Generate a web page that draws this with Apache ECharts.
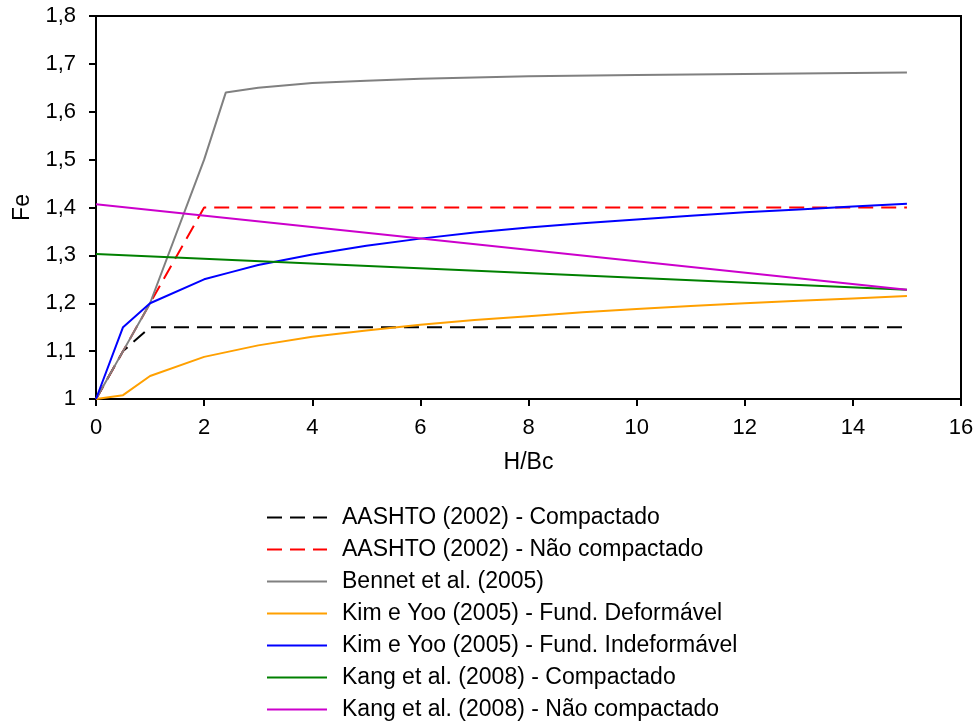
<!DOCTYPE html>
<html><head><meta charset="utf-8">
<script src="https://cdn.jsdelivr.net/npm/echarts@6/dist/echarts.min.js"></script>
<style>html,body{margin:0;padding:0;background:#fff}#c{width:979px;height:726px}</style>
</head><body><div id="c"></div>
<script>
const xTicks = [0, 2, 4, 6, 8, 10, 12, 14, 16];
const seriesNames = [
  'AASHTO (2002) - Compactado',
  'AASHTO (2002) - Não compactado',
  'Bennet et al. (2005)',
  'Kim e Yoo (2005) - Fund. Deformável',
  'Kim e Yoo (2005) - Fund. Indeformável',
  'Kang et al. (2008) - Compactado',
  'Kang et al. (2008) - Não compactado'
];
const aashtoComp = [[0,1],[0.5,1.1],[1,1.15],[15,1.15]];
const aashtoNaoComp = [[0,1],[0.5,1.1],[1,1.2],[2,1.4],[15,1.4]];
const bennet = [[0,1],[0.5,1.1],[1,1.2],[2,1.5],[2.4,1.64],[3,1.65],[4,1.66],[5,1.665],[6,1.669],[8,1.674],[10,1.677],[12,1.679],[15,1.682]];
const kimDef = [[0,1],[0.5,1.008],[1,1.048],[2,1.088],[2.5,1.1],[3,1.112],[4,1.13],[5,1.143],[6,1.155],[7,1.165],[8,1.173],[9,1.181],[10,1.188],[11,1.194],[12,1.2],[13,1.205],[14,1.21],[15,1.215]];
const kimIndef = [[0,1],[0.5,1.15],[1,1.2],[2,1.25],[2.5,1.265],[3,1.28],[4,1.302],[5,1.32],[6,1.335],[7,1.348],[8,1.358],[9,1.367],[10,1.375],[11,1.383],[12,1.39],[13,1.396],[14,1.402],[15,1.408]];
const kangComp = [[0,1.303],[15,1.228]];
const kangNaoComp = [[0,1.407],[15,1.228]];

const dataSets = [aashtoComp, aashtoNaoComp, bennet, kimDef, kimIndef, kangComp, kangNaoComp];
const colors = ['#000000', '#ff0000', '#808080', '#ffa000', '#0000ff', '#008000', '#cc00cc'];
const dashed = [true, true, false, false, false, false, false];

const font = "'Liberation Sans', Arial, sans-serif";
const chart = echarts.init(document.getElementById('c'));
chart.setOption({
  animation: false,
  grid: {left: 96, right: 18, top: 16, bottom: 327, show: true, borderColor: '#000', borderWidth: 2, backgroundColor: 'transparent'},
  xAxis: {
    type: 'value', min: 0, max: 16, interval: 2,
    name: 'H/Bc', nameLocation: 'middle', nameGap: 52,
    nameTextStyle: {color: '#000', fontSize: 23, fontFamily: font},
    axisLine: {lineStyle: {color: '#000', width: 2}},
    axisTick: {show: true, inside: false, length: 7, lineStyle: {color: '#000', width: 2}},
    axisLabel: {color: '#000', fontSize: 22, fontFamily: font, margin: 18},
    splitLine: {show: false}
  },
  yAxis: {
    type: 'value', min: 1, max: 1.8, interval: 0.1,
    name: 'Fe', nameLocation: 'middle', nameGap: 62, nameRotate: 90,
    nameTextStyle: {color: '#000', fontSize: 23, fontFamily: font},
    axisLine: {lineStyle: {color: '#000', width: 2}},
    axisTick: {show: true, inside: false, length: 7, lineStyle: {color: '#000', width: 2}},
    axisLabel: {color: '#000', fontSize: 22, fontFamily: font, margin: 20,
      formatter: v => String(+v.toFixed(1)).replace('.', ',')},
    splitLine: {show: false}
  },
  legend: {
    orient: 'vertical', left: 261, top: 501, height: 220,
    itemWidth: 60, itemHeight: 14, itemGap: 9,
    itemStyle: {opacity: 0},
    textStyle: {color: '#000', fontSize: 23, fontFamily: font, lineHeight: 22, padding: [0, 0, 0, 10]},
    data: seriesNames
  },
  series: seriesNames.map((n, i) => ({
    name: n, type: 'line', data: dataSets[i], symbol: 'none', smooth: false,
    lineStyle: {color: colors[i], width: 2, type: dashed[i] ? [15, 8] : 'solid'},
    itemStyle: {color: colors[i]}
  }))
});
</script></body></html>
